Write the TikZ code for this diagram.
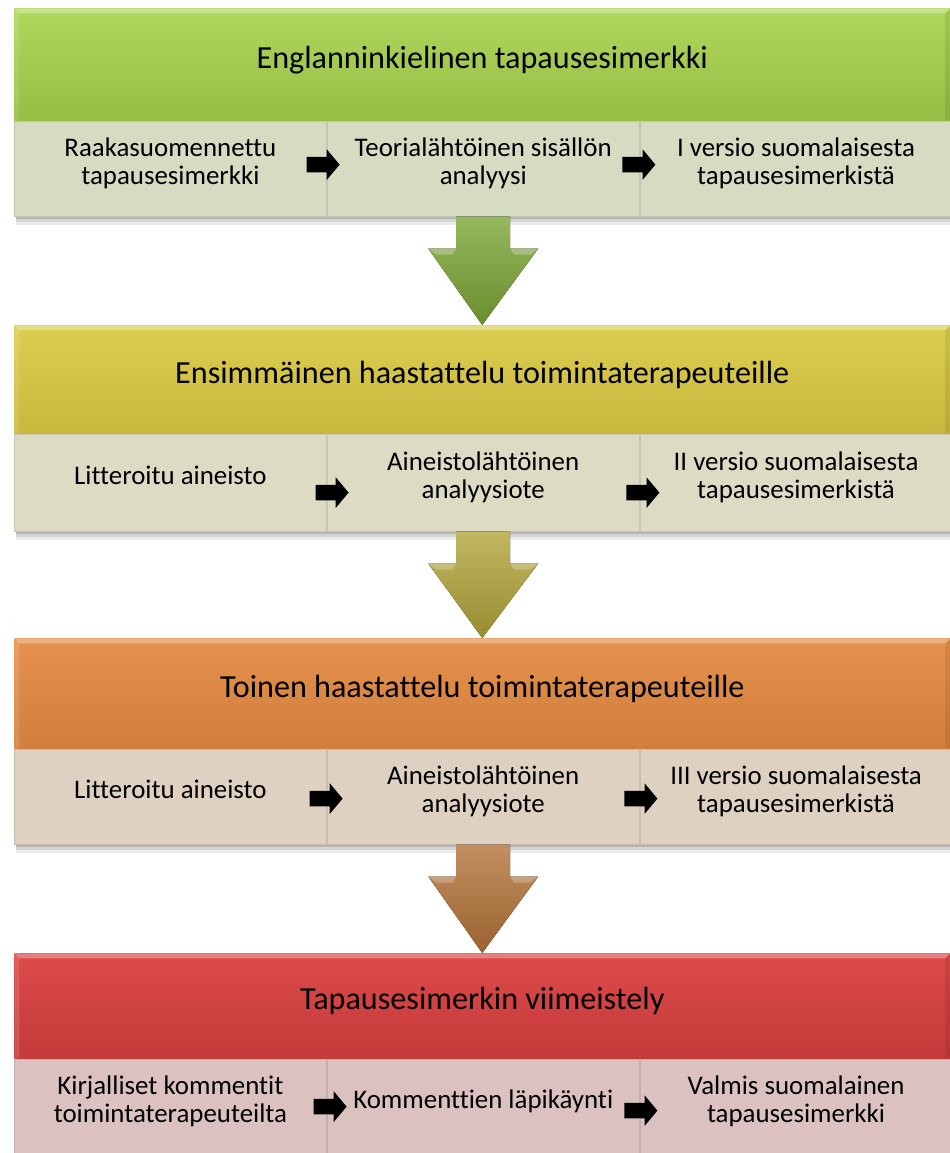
\documentclass[tikz,border=0pt]{standalone}
\usepackage{fontspec}
\setmainfont[Ligatures=NoCommon]{Carlito}
\usetikzlibrary{shapes.arrows,calc}

\definecolor{grnhead}{HTML}{AFD75C}
\definecolor{grnheadlo}{HTML}{96BE45}
\definecolor{grncell}{HTML}{D5DCC2}
\definecolor{grnarrow}{HTML}{7CA635}
\definecolor{ylwhead}{HTML}{DCCE50}
\definecolor{ylwheadlo}{HTML}{C8B83E}
\definecolor{ylwcell}{HTML}{DEDBC5}
\definecolor{ylwarrow}{HTML}{B2A53A}
\definecolor{orghead}{HTML}{E6924E}
\definecolor{orgheadlo}{HTML}{D27E3C}
\definecolor{orgcell}{HTML}{DFD1C2}
\definecolor{orgarrow}{HTML}{B57338}
\definecolor{redhead}{HTML}{DE4A4A}
\definecolor{redheadlo}{HTML}{C43A3A}
\definecolor{redcell}{HTML}{DBC2C1}

\tikzset{
  header/.style={rectangle, anchor=north west, inner sep=0pt,
    minimum width=18.72cm, minimum height=#1, text depth=0.3cm,
    font=\fontsize{18.3}{22}\selectfont,
    path picture={
      \fill[white,opacity=0.3] (path picture bounding box.north west)
        -- (path picture bounding box.north east)
        -- ([shift={(-0.1cm,-0.1cm)}]path picture bounding box.north east)
        -- ([shift={(0.1cm,-0.1cm)}]path picture bounding box.north west) -- cycle;
      \fill[white,opacity=0.12] (path picture bounding box.north west)
        -- ([shift={(0.1cm,-0.1cm)}]path picture bounding box.north west)
        -- ([xshift=0.1cm]path picture bounding box.south west)
        -- (path picture bounding box.south west) -- cycle;
      \fill[black,opacity=0.08] (path picture bounding box.north east)
        -- ([shift={(-0.1cm,-0.1cm)}]path picture bounding box.north east)
        -- ([xshift=-0.1cm]path picture bounding box.south east)
        -- (path picture bounding box.south east) -- cycle;
    }},
  cell/.style={rectangle, anchor=north west, inner sep=2pt, align=center,
    minimum width=6.24cm, minimum height=1.9cm, text depth=0.3cm,
    fill=#1, draw=#1!90!black, line width=0.5pt,
    font=\fontsize{15.3}{16.4}\selectfont},
  steparrow/.style={single arrow, fill=black, inner xsep=0pt, inner ysep=0.15cm,
    minimum height=0.66cm,
    single arrow head extend=0.15cm, single arrow tip angle=100},
}

% soft shadow under a row of cells
\newcommand{\rowshadow}[2]{%
  \fill[black,opacity=0.08] ($(#1.south west)+(2,0)$) rectangle ($(#2.south east)+(0,8)$);
  \fill[black,opacity=0.10] ($(#1.south west)+(2,0)$) rectangle ($(#2.south east)+(0,5)$);
  \fill[black,opacity=0.14] ($(#1.south west)+(2,0)$) rectangle ($(#2.south east)+(0,2)$);}
% big arrow from a cell row down to the next header
\newcommand{\flowarrow}[3]{%
  \fill[top color=#3!80!white, bottom color=#3!85!black]
    ($(#1.south)+(-27,0)$) -- ++(0,32) -- ++(-28,0) -- (#2.north)
    -- ($(#1.south)+(55,32)$) -- ++(-28,0) -- ++(0,-32) -- cycle;
  \fill[white,opacity=0.25] ($(#1.south)+(-55,32)$) -- ($(#1.south)+(-27,32)$)
    -- ($(#1.south)+(-31,38)$) -- ($(#1.south)+(-47,38)$) -- cycle;
  \fill[white,opacity=0.25] ($(#1.south)+(55,32)$) -- ($(#1.south)+(27,32)$)
    -- ($(#1.south)+(31,38)$) -- ($(#1.south)+(47,38)$) -- cycle;}

\begin{document}
\begin{tikzpicture}[x=0.02cm, y=-0.02cm]
  \useasboundingbox (0,0) rectangle (950,1153);

  \node[header=2.24cm, top color=grnhead, bottom color=grnheadlo] (h1) at (14,8) {Englanninkielinen tapausesimerkki};
  \node[cell=grncell] (c11) at (h1.south west) {Raakasuomennettu\\tapausesimerkki};
  \node[cell=grncell] (c12) at (c11.north east) {Teorialähtöinen sisällön\\analyysi};
  \node[cell=grncell] (c13) at (c12.north east) {I versio suomalaisesta\\tapausesimerkistä};
  \node[steparrow] (a11) at ($(c11.east)+(-7,-4)$) {};
  \node[steparrow] (a12) at ($(c12.east)+(-4,-4)$) {};
  \rowshadow{c11}{c13}

  \node[header=2.16cm, top color=ylwhead, bottom color=ylwheadlo] (h2) at (14,325) {Ensimmäinen haastattelu toimintaterapeuteille};
  \node[cell=ylwcell, minimum height=1.94cm] (c21) at (h2.south west) {Litteroitu aineisto};
  \node[cell=ylwcell, minimum height=1.94cm] (c22) at (c21.north east) {Aineistolähtöinen\\analyysiote};
  \node[cell=ylwcell, minimum height=1.94cm] (c23) at (c22.north east) {II versio suomalaisesta\\tapausesimerkistä};
  \node[steparrow] (a21) at ($(c21.east)+(2,10)$) {};
  \node[steparrow] (a22) at ($(c22.east)+(0,10)$) {};
  \rowshadow{c21}{c23}

  \node[header=2.2cm, top color=orghead, bottom color=orgheadlo] (h3) at (14,638) {Toinen haastattelu toimintaterapeuteille};
  \node[cell=orgcell] (c31) at (h3.south west) {Litteroitu aineisto};
  \node[cell=orgcell] (c32) at (c31.north east) {Aineistolähtöinen\\analyysiote};
  \node[cell=orgcell] (c33) at (c32.north east) {III versio suomalaisesta\\tapausesimerkistä};
  \node[steparrow] (a31) at ($(c31.east)+(-4,2)$) {};
  \node[steparrow] (a32) at ($(c32.east)+(-2,2)$) {};
  \rowshadow{c31}{c33}

  \node[header=2.1cm, top color=redhead, bottom color=redheadlo] (h4) at (14,953) {Tapausesimerkin viimeistely};
  \node[cell=redcell] (c41) at (h4.south west) {Kirjalliset kommentit\\toimintaterapeuteilta};
  \node[cell=redcell] (c42) at (c41.north east) {Kommenttien läpikäynti};
  \node[cell=redcell] (c43) at (c42.north east) {Valmis suomalainen\\tapausesimerkki};
  \node[steparrow] (a41) at ($(c41.east)+(0,0)$) {};
  \node[steparrow] (a42) at ($(c42.east)+(-2,4)$) {};

  \flowarrow{c12}{h2}{grnarrow}
  \flowarrow{c22}{h3}{ylwarrow}
  \flowarrow{c32}{h4}{orgarrow}
\end{tikzpicture}
\end{document}
